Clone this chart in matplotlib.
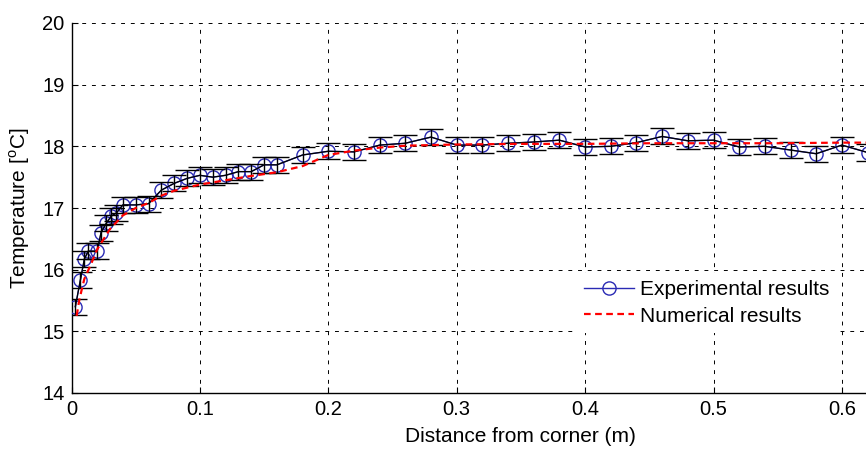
import matplotlib
matplotlib.use("Agg")
import matplotlib.pyplot as plt

plt.rcParams['font.family'] = ['Liberation Sans', 'DejaVu Sans']
plt.rcParams['mathtext.fontset'] = 'custom'
plt.rcParams['mathtext.rm'] = 'Liberation Sans'

# measured temperatures along the wall (m, degC)
x_exp = [0.003, 0.007, 0.010, 0.013, 0.020, 0.023, 0.027, 0.031, 0.035, 0.040,
         0.050, 0.060, 0.070, 0.080, 0.090, 0.100, 0.110, 0.120, 0.130, 0.140,
         0.150, 0.160, 0.180, 0.200, 0.220, 0.240, 0.260, 0.280, 0.300, 0.320,
         0.340, 0.360, 0.380, 0.400, 0.420, 0.440, 0.460, 0.480, 0.500, 0.520,
         0.540, 0.560, 0.580, 0.600, 0.620]
T_exp = [15.40, 15.84, 16.17, 16.30, 16.30, 16.60, 16.75, 16.87, 16.92, 17.05,
         17.05, 17.07, 17.29, 17.40, 17.48, 17.53, 17.50, 17.53, 17.59, 17.59,
         17.70, 17.70, 17.86, 17.92, 17.91, 18.02, 18.05, 18.15, 18.02, 18.02,
         18.05, 18.07, 18.10, 17.99, 18.00, 18.06, 18.16, 18.09, 18.10, 17.99,
         18.00, 17.94, 17.88, 18.02, 17.90]
T_err = 0.13

# simulated profile
x_num = [0.004, 0.006, 0.008, 0.010, 0.015, 0.020, 0.030, 0.040, 0.050, 0.060,
         0.070, 0.080, 0.100, 0.120, 0.140, 0.160, 0.180, 0.200, 0.220, 0.240,
         0.260, 0.280, 0.300, 0.350, 0.400, 0.450, 0.500, 0.550, 0.600, 0.650, 0.700]
T_num = [15.25, 15.50, 15.68, 15.85, 16.08, 16.33, 16.66, 16.88, 17.00, 17.08,
         17.20, 17.28, 17.38, 17.45, 17.52, 17.58, 17.68, 17.86, 17.93, 17.98,
         18.01, 18.02, 18.03, 18.04, 18.04, 18.05, 18.05, 18.05, 18.06, 18.06, 18.06]

fig = plt.figure(figsize=(8.66, 4.5), dpi=100)
# axes run past the right edge of the figure
ax = fig.add_axes([71.5 / 866, 57 / 450, 0.7 * 1284 / 866, 370 / 450])

blue = '#2a2ab4'
ax.plot(x_exp, T_exp, '-o', color=blue, mfc='none', mec=blue, ms=9.5, mew=1.0,
        lw=1.0, label='Experimental results', zorder=3)
ax.errorbar(x_exp, T_exp, yerr=T_err, fmt='-', color='k', lw=0.9, elinewidth=1.0,
            capsize=8.5, capthick=1.0, zorder=4)
ax.plot(x_num, T_num, color='red', lw=1.6, linestyle=(0, (3, 2)),
        label='Numerical results', zorder=5)

ax.set_xlim(0, 0.7)
ax.set_ylim(14, 20)
ax.set_xticks([0, 0.1, 0.2, 0.3, 0.4, 0.5, 0.6])
ax.set_xticklabels(['0', '0.1', '0.2', '0.3', '0.4', '0.5', '0.6'])
ax.set_yticks([14, 15, 16, 17, 18, 19, 20])

ax.grid(True, color='k', lw=0.7, linestyle=(0, (4, 6)))
ax.set_axisbelow(True)
for side in ('top', 'right'):
    ax.spines[side].set_visible(False)
ax.spines['left'].set_linewidth(1.0)
ax.spines['bottom'].set_linewidth(1.0)
ax.tick_params(direction='in', length=4, width=0.8, labelsize=14.5, pad=5)

ax.set_xlabel('Distance from corner (m)', fontsize=15, labelpad=6)
ax.set_ylabel(r'Temperature [$^{\mathrm{o}}$C]', fontsize=15, labelpad=7)

leg = ax.legend(loc='upper left', bbox_to_anchor=(577 / 866, 1 - 273 / 450),
                bbox_transform=fig.transFigure, fontsize=15, frameon=True,
                fancybox=False, framealpha=1, edgecolor='none', borderpad=0.35,
                borderaxespad=0, handlelength=2.4, handletextpad=0.25,
                labelspacing=0.35)

fig.savefig('out.png', dpi=100)
